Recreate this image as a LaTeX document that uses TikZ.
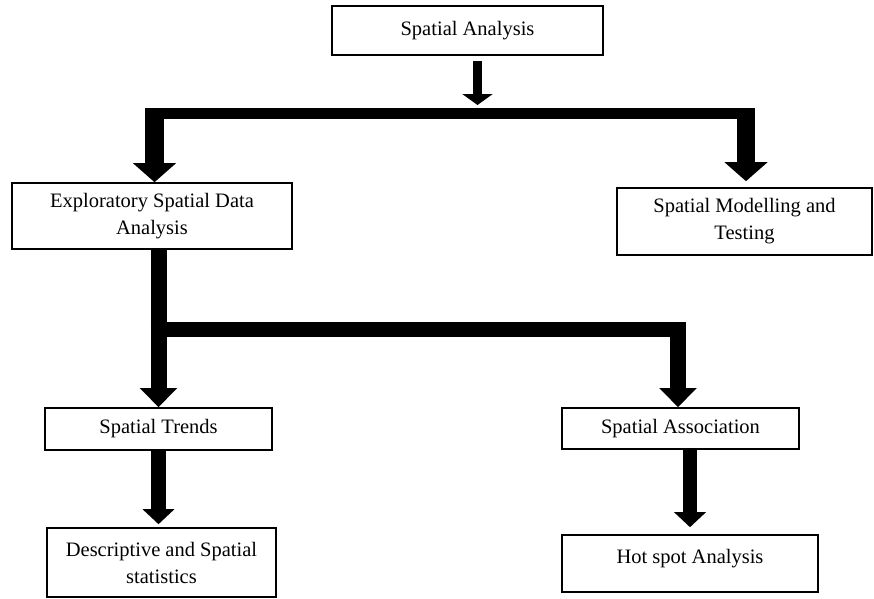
\documentclass[tikz,border=0pt]{standalone}
\usepackage{fontspec}
\setmainfont{Liberation Serif}
\usetikzlibrary{arrows.meta,positioning,calc}
\tikzset{
  stage/.style={draw, line width=1.6pt, align=center, inner sep=0pt,
    font=\fontsize{20.5}{27}\selectfont},
  boxsize/.style 2 args={minimum width=#1pt, minimum height=#2pt},
  flow/.style={line width=18.5pt, -{Triangle[width=42pt,length=19pt]}},
  link/.style={line width=16pt, -{Triangle[width=36pt,length=19pt]}},
  descent/.style={line width=14.5pt, -{Triangle[width=31pt,length=15pt]}},
  pointer/.style={line width=9pt, -{Triangle[width=30pt,length=11pt]}},
}
\begin{document}
\begin{tikzpicture}[x=1pt,y=-1pt]
\useasboundingbox (0,0) rectangle (874,598);
% boxes
\node[stage, boxsize={271}{49}] (analysis) at (467.5,30.5) {Spatial Analysis};
\node[stage, boxsize={280}{66}] (esda) at (152,216) {Exploratory Spatial Data\\Analysis};
\node[stage, boxsize={255}{67}] (model) at (744.5,221.5) {Spatial Modelling and\\Testing};
\node[stage, boxsize={227}{42}] (trends) at (158.5,429) {Spatial Trends};
\node[stage, boxsize={237}{41}] (assoc) at (680.5,428.5) {Spatial Association};
\node[stage, boxsize={229}{69}] (descr) at (161.5,562.5) {Descriptive and Spatial\\statistics};
\node[stage, boxsize={256}{57}, text depth=15pt] (hotspot) at (690,563.5) {Hot spot Analysis};
% top split
\coordinate (pointer tip) at (477.5,105);
\draw[pointer, shorten <=5pt] (analysis.south -| pointer tip) -- (pointer tip);
\coordinate (rail1 west) at (145,113.5);
\coordinate (rail1 east) at (755,113.5);
\draw[line width=11pt] (rail1 west) -- (rail1 east);
\coordinate (drop1) at (154.5,108);
\coordinate (drop2) at (746,108);
\draw[flow] (drop1) -- (drop1 |- esda.north);
\draw[flow, shorten >=6pt] (drop2) -- (drop2 |- model.north);
% second split
\coordinate (rail2 west) at (150.5,329.5);
\coordinate (rail2 east) at (686,329.5);
\draw[line width=15pt] (rail2 west) -- (rail2 east);
\draw[link] (esda.south -| trends.north) -- (trends.north);
\coordinate (drop3) at (678,322);
\draw[link] (drop3) -- (drop3 |- assoc.north);
% last steps
\draw[descent, shorten >=3pt] (trends.south) -- (trends.south |- descr.north);
\draw[descent, shorten >=7pt] (hotspot.north |- assoc.south) -- (hotspot.north);
\end{tikzpicture}
\end{document}
